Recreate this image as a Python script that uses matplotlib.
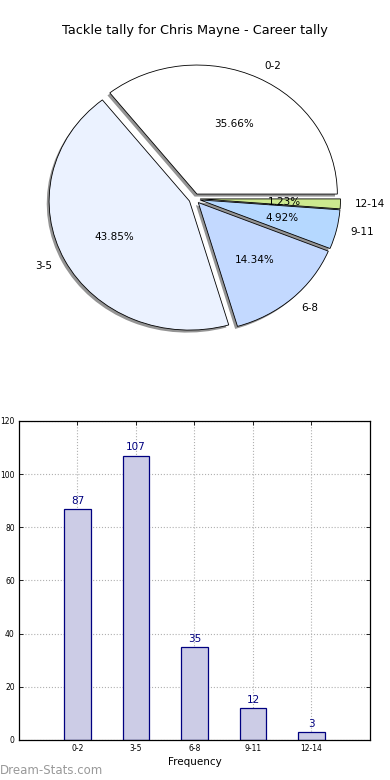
import matplotlib
matplotlib.use("Agg")
import matplotlib.pyplot as plt
import numpy as np

# tackle tally data
ranges = ["0-2", "3-5", "6-8", "9-11", "12-14"]
counts = [87, 107, 35, 12, 3]
pie_colors = ["#ffffff", "#ebf2ff", "#c3d9ff", "#b5d8ff", "#cde98f"]
explode = [0.04, 0.04, 0.04, 0.04, 0.04]
yticks = [0, 20, 40, 60, 80, 100, 120]

fig = plt.figure(figsize=(3.9, 7.8), dpi=100)

# ---- pie ----
ax1 = fig.add_axes([0.0487, 0.5385, 0.9, 0.4135])
wedges, texts, autotexts = ax1.pie(counts, explode=explode, labels=ranges,
                                   colors=pie_colors, autopct="%1.2f%%",
                                   shadow=dict(ox=-0.012, oy=-0.014,
                                               facecolor="#888888",
                                               edgecolor="none", alpha=0.9),
                                   startangle=0,
                                   labeldistance=1.1, pctdistance=0.6,
                                   wedgeprops=dict(edgecolor="black", linewidth=0.6),
                                   textprops=dict(fontsize=7.5))
ax1.set_aspect("auto")
ax1.set_xlim(-1.25, 1.25)
ax1.set_ylim(-1.25, 1.25)
fig.text(0.5, 0.961, "Tackle tally for Chris Mayne - Career tally",
         ha="center", va="center", fontsize=9.3)

# ---- bars ----
ax2 = fig.add_axes([0.0487, 0.0513, 0.9, 0.409])
x = np.arange(len(ranges))
bars = ax2.bar(x, counts, width=0.45, color="#ccccE6", edgecolor="navy",
               linewidth=0.9, zorder=2)
for xi, c in zip(x, counts):
    ax2.text(xi, c + 1.2, str(c), ha="center", va="bottom",
             color="navy", fontsize=7.5)
ax2.set_xlim(-1, 5)
ax2.set_ylim(0, 120)
ax2.set_xticks(x)
ax2.set_xticklabels(ranges)
ax2.set_yticks(yticks)
ax2.tick_params(direction="in", length=3, labelsize=5.5, top=True, right=True,
                pad=3, width=0.6)
ax2.grid(True, linestyle=":", color="#b0b0b0", linewidth=0.8, zorder=0)
ax2.set_axisbelow(True)
ax2.set_xlabel("Frequency", fontsize=7.5, labelpad=3)
for s in ax2.spines.values():
    s.set_linewidth(0.9)

fig.text(0.0, 0.012, "Dream-Stats.com", color="#999999", fontsize=8.5,
         ha="left", va="center")

fig.savefig("out.png", dpi=100)
